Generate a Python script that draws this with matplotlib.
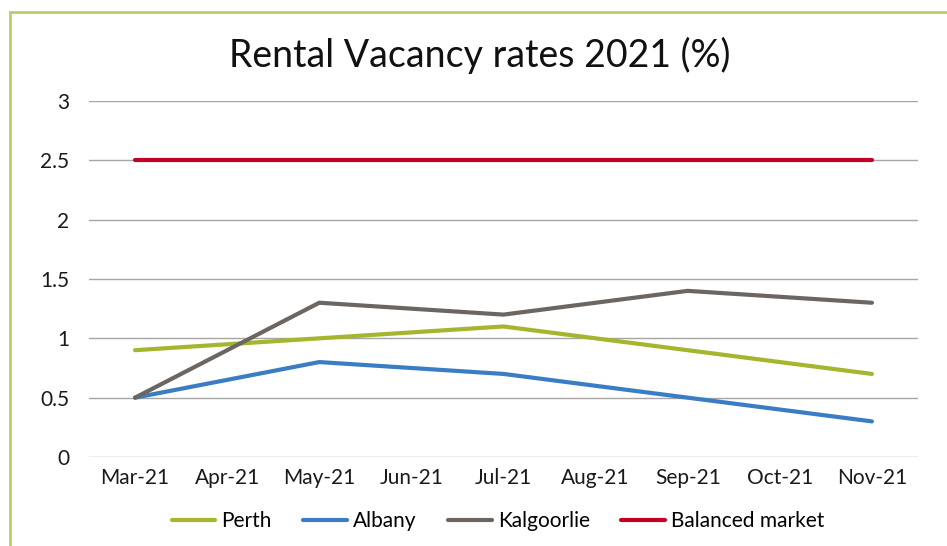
import matplotlib.pyplot as plt
from matplotlib.patches import Rectangle

months = ["Mar-21", "Apr-21", "May-21", "Jun-21", "Jul-21",
          "Aug-21", "Sep-21", "Oct-21", "Nov-21"]
# readings only taken every second month
point_idx = [0, 2, 4, 6, 8]
perth = [0.9, 1.0, 1.1, 0.9, 0.7]
albany = [0.5, 0.8, 0.7, 0.5, 0.3]
kalgoorlie = [0.5, 1.3, 1.2, 1.4, 1.3]
balanced = [2.5, 2.5, 2.5, 2.5, 2.5]
yticks = [0, 0.5, 1, 1.5, 2, 2.5, 3]
ytick_labels = ["0", "0.5", "1", "1.5", "2", "2.5", "3"]

plt.rcParams["font.family"] = ["Lato", "DejaVu Sans"]

fig = plt.figure(figsize=(9.47, 5.46), dpi=100)
ax = fig.add_axes([89 / 947, 1 - 457 / 546, 829 / 947, 356 / 546])

# green frame around the chart (runs off right/bottom edge)
fig.patches.append(Rectangle((10 / 947, -0.1), 1.2, 1 - 12 / 546 + 0.1,
                             transform=fig.transFigure, fill=False,
                             edgecolor="#BFCB6A", linewidth=2))

series = [
    ("Perth", perth, "#A5B52D"),
    ("Albany", albany, "#3A7DC3"),
    ("Kalgoorlie", kalgoorlie, "#6B6662"),
    ("Balanced market", balanced, "#C00025"),
]
for name, vals, col in series:
    ax.plot(point_idx, vals, color=col, linewidth=3, label=name,
            solid_capstyle="round")

ax.set_xlim(-0.5, len(months) - 0.5)
ax.set_ylim(0, 3)
ax.set_xticks(range(len(months)))
ax.set_xticklabels(months)
ax.set_yticks(yticks)
ax.set_yticklabels(ytick_labels)
ax.tick_params(length=0, labelsize=15, colors="#1a1a1a", pad=8)
ax.tick_params(axis="y", pad=14)
ax.grid(axis="y", color="#A6A6A6", linewidth=1)
ax.set_axisbelow(True)
for s in ax.spines.values():
    s.set_visible(False)

fig.text(480 / 947, 1 - 55 / 546, "Rental Vacancy rates 2021 (%)",
         ha="center", va="center", fontsize=27, color="#111111")

fig.legend(loc="center", bbox_to_anchor=(498 / 947, 1 - 521 / 546), ncol=4,
           frameon=False, fontsize=15, handlelength=2.1, handletextpad=0.3,
           columnspacing=1.5)

fig.savefig("out.png", dpi=100, facecolor="white")
